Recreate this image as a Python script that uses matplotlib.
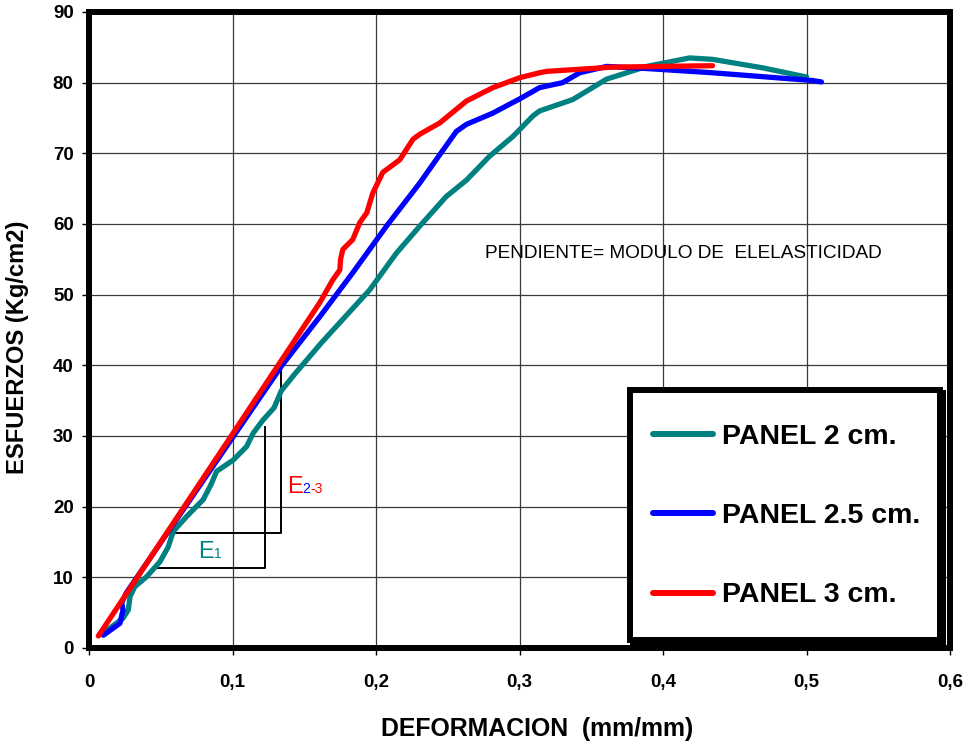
import matplotlib.pyplot as plt
from matplotlib.patches import Rectangle

plt.rcParams['font.family'] = ['Liberation Sans', 'DejaVu Sans']

# PANEL 2 cm.
x_p2 = [0.0098, 0.0237, 0.0274, 0.0286, 0.032, 0.0402, 0.0494, 0.0552, 0.0587, 0.068,
        0.0796, 0.0854, 0.0889, 0.1005, 0.1098, 0.1144, 0.121, 0.129, 0.134, 0.1435,
        0.162, 0.1957, 0.2143, 0.2305, 0.249, 0.263, 0.2792, 0.2955, 0.3094, 0.314,
        0.337, 0.3607, 0.3886, 0.4185, 0.4345, 0.4694, 0.5]
y_p2 = [2.1, 4.2, 5.4, 7.3, 8.7, 10.1, 12.2, 14.3, 16.5, 18.6,
        21.0, 23.3, 25.0, 26.6, 28.5, 30.4, 32.2, 34.0, 36.4, 38.8,
        43.2, 50.7, 55.9, 59.7, 63.9, 66.2, 69.6, 72.4, 75.3, 76.0,
        77.6, 80.5, 82.3, 83.5, 83.3, 82.1, 80.8]

# PANEL 2.5 cm.
x_p25 = [0.01, 0.0216, 0.0237, 0.0228, 0.026, 0.1345, 0.1609, 0.1838, 0.2073, 0.2305,
         0.2444, 0.256, 0.263, 0.2815, 0.3001, 0.314, 0.330, 0.3419, 0.3607, 0.3886,
         0.4345, 0.5042, 0.5104]
y_p25 = [1.8, 3.5, 5.4, 6.4, 7.8, 40.0, 46.9, 53.1, 59.7, 65.8,
         69.8, 73.1, 74.1, 75.7, 77.7, 79.3, 80.0, 81.4, 82.3, 82.0,
         81.4, 80.3, 80.1]

# PANEL 3 cm.
x_p3 = [0.0065, 0.1609, 0.1699, 0.1748, 0.1753, 0.1769, 0.1838, 0.1887, 0.1936, 0.1978,
        0.2047, 0.2166, 0.2258, 0.2305, 0.2444, 0.263, 0.2815, 0.3001, 0.314, 0.319,
        0.3649, 0.4345]
y_p3 = [1.7, 48.9, 52.1, 53.5, 55.0, 56.4, 57.8, 60.2, 61.6, 64.4,
        67.3, 69.1, 72.0, 72.7, 74.3, 77.4, 79.3, 80.7, 81.4, 81.6,
        82.2, 82.4]

labels = ['PANEL 2 cm.', 'PANEL 2.5 cm.', 'PANEL 3 cm.']
colors = ['#008080', '#0000FF', '#FF0000']

# slope brackets
e1_x = [0.0453, 0.1226, 0.1226]
e1_y = [11.3, 11.3, 31.3]
e23_x = [0.0564, 0.1335, 0.1335]
e23_y = [16.3, 16.3, 39.7]

xticks = [0, 0.1, 0.2, 0.3, 0.4, 0.5, 0.6]
xtick_labels = ['0', '0,1', '0,2', '0,3', '0,4', '0,5', '0,6']
yticks = list(range(0, 100, 10))

W, H = 964, 747
fig = plt.figure(figsize=(W / 100, H / 100), dpi=100)
ax = fig.add_axes([89/W, 1 - 648/H, 861/W, 636/H])

for xs, ys, lab, c in zip([x_p2, x_p25, x_p3], [y_p2, y_p25, y_p3], labels, colors):
    ax.plot(xs, ys, color=c, lw=3.8, label=lab, solid_capstyle='round',
            solid_joinstyle='round', zorder=3)

ax.plot(e1_x, e1_y, color='black', lw=1.4, zorder=2)
ax.plot(e23_x, e23_y, color='black', lw=1.4, zorder=2)

tE1 = ax.text(0.0761, 12.7, 'E', color='#008080', fontsize=17, va='baseline')
ax.annotate('1', xy=(1, 0), xycoords=tE1, xytext=(0, 1.5), textcoords='offset points',
            color='#008080', fontsize=10, va='bottom')
tE23 = ax.text(0.1379, 21.95, 'E', color='#FF0000', fontsize=17, va='baseline')
t2 = ax.annotate('2', xy=(1, 0), xycoords=tE23, xytext=(0, 1.5), textcoords='offset points',
                 color='#0000FF', fontsize=10, va='bottom')
ax.annotate('-3', xy=(1, 0), xycoords=t2, color='#FF0000', fontsize=10, va='bottom')

ax.text(0.2758, 55.2, 'PENDIENTE= MODULO DE  ELELASTICIDAD', fontsize=13.7, va='baseline')

ax.set_xlim(0, 0.6)
ax.set_ylim(0, 90)
ax.set_xticks(xticks)
ax.set_xticklabels(xtick_labels)
ax.set_yticks(yticks)
ax.grid(True, color='#3a3a3a', lw=0.9, zorder=0)
ax.set_axisbelow(True)
for s in ax.spines.values():
    s.set_linewidth(4.3)
    s.set_color('black')
ax.tick_params(axis='both', direction='out', length=5, width=1, labelsize=13.5)
ax.tick_params(axis='x', pad=14)
ax.tick_params(axis='y', pad=6)
for t in ax.get_xticklabels() + ax.get_yticklabels():
    t.set_fontweight('bold')

fig.text(18/W, 1 - 347/H, 'ESFUERZOS (Kg/cm2)', rotation=90, ha='center', va='center',
         fontsize=17.1, fontweight='bold')
fig.text(537/W, 1 - 729/H, 'DEFORMACION  (mm/mm)', ha='center', va='center',
         fontsize=17.9, fontweight='bold')

# legend box drawn by hand (shadow + frame), legend content placed inside
shadow = Rectangle((633/W, 1 - 643/H), 310/W, 250/H, transform=fig.transFigure,
                   facecolor='black', edgecolor='black', lw=4.3, clip_on=False, zorder=4)
frame = Rectangle((630/W, 1 - 640/H), 310/W, 250/H, transform=fig.transFigure,
                  facecolor='white', edgecolor='black', lw=4.3, clip_on=False, zorder=4.1)
ax.add_patch(shadow)
ax.add_patch(frame)

leg = ax.legend(loc='upper left', bbox_to_anchor=(653/W, 1 - 424/H),
                bbox_transform=fig.transFigure, borderaxespad=0, borderpad=0,
                frameon=False, prop={'weight': 'bold', 'size': 20.5},
                handlelength=2.1, handletextpad=0.32, labelspacing=1.87)
for h in leg.get_lines():
    h.set_linewidth(4.3)
    h.set_solid_capstyle('round')
leg.set_zorder(5)

fig.savefig('out.png', dpi=100)
